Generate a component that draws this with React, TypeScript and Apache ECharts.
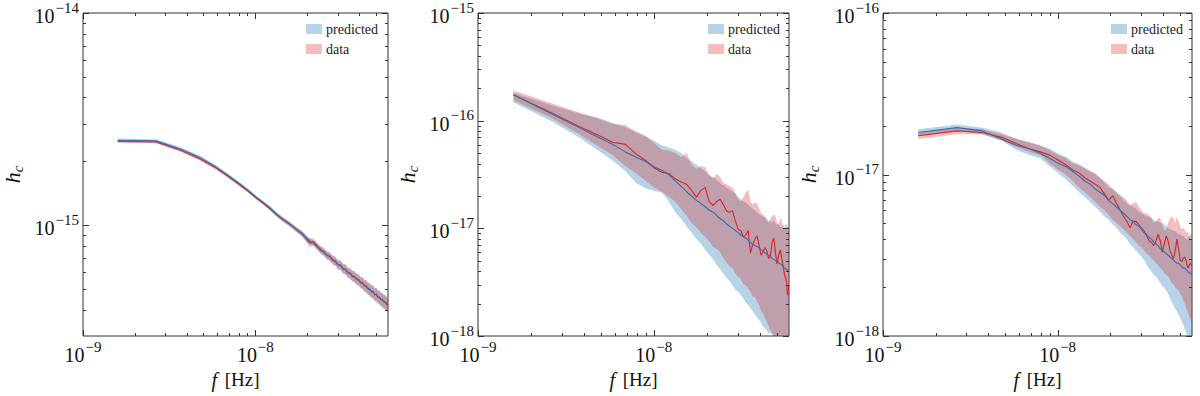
import React, { useEffect, useRef } from 'react';
import * as echarts from 'echarts';

// frequencies in nHz
const freqNHz = [
  1.59, 2.65, 3.71, 4.77, 5.83, 6.89, 7.95, 9.01, 10.07, 11.13,
  12.19, 13.25, 14.31, 15.37, 16.43, 17.49, 18.55, 19.61, 20.67, 21.73,
  22.79, 23.85, 24.91, 25.97, 27.03, 28.09, 29.15, 30.21, 31.27, 32.33,
  33.39, 34.45, 35.51, 36.57, 37.63, 38.69, 39.75, 40.81, 41.87, 42.93,
  43.99, 45.05, 46.11, 47.17, 48.23, 49.29, 50.35, 51.41, 52.47, 53.53,
  54.59, 55.65, 56.71, 57.77, 58.83,
];

// all h_c values stored as log10(h_c)
// ---- panel 1
const p1PredMed = [
  -14.600, -14.603, -14.642, -14.681, -14.722, -14.764, -14.800, -14.834, -14.867, -14.894,
  -14.920, -14.948, -14.970, -14.987, -15.005, -15.023, -15.037, -15.058, -15.075, -15.086,
  -15.101, -15.113, -15.128, -15.139, -15.150, -15.162, -15.173, -15.185, -15.192, -15.204,
  -15.211, -15.222, -15.230, -15.238, -15.245, -15.253, -15.260, -15.268, -15.276, -15.283,
  -15.291, -15.298, -15.306, -15.310, -15.317, -15.325, -15.329, -15.336, -15.344, -15.348,
  -15.355, -15.359, -15.365, -15.370, -15.374,
];
const p1PredHi = [
  -14.592, -14.595, -14.634, -14.673, -14.714, -14.756, -14.792, -14.826, -14.859, -14.886,
  -14.911, -14.938, -14.960, -14.977, -14.995, -15.013, -15.026, -15.046, -15.061, -15.072,
  -15.087, -15.098, -15.113, -15.122, -15.134, -15.144, -15.155, -15.166, -15.172, -15.184,
  -15.190, -15.200, -15.208, -15.214, -15.222, -15.229, -15.235, -15.243, -15.250, -15.257,
  -15.263, -15.270, -15.277, -15.281, -15.287, -15.295, -15.298, -15.305, -15.312, -15.316,
  -15.322, -15.326, -15.332, -15.337, -15.341,
];
const p1PredLo = [
  -14.607, -14.610, -14.649, -14.689, -14.730, -14.772, -14.808, -14.842, -14.875, -14.903,
  -14.930, -14.958, -14.981, -14.998, -15.017, -15.035, -15.050, -15.071, -15.089, -15.101,
  -15.116, -15.129, -15.144, -15.157, -15.168, -15.181, -15.192, -15.205, -15.213, -15.225,
  -15.233, -15.245, -15.254, -15.262, -15.270, -15.279, -15.286, -15.295, -15.303, -15.311,
  -15.320, -15.327, -15.336, -15.341, -15.348, -15.357, -15.361, -15.369, -15.378, -15.382,
  -15.390, -15.394, -15.401, -15.406, -15.411,
];
const p1DataMed = [
  -14.606, -14.608, -14.648, -14.688, -14.728, -14.769, -14.805, -14.838, -14.871, -14.897,
  -14.923, -14.950, -14.972, -14.989, -15.006, -15.024, -15.040, -15.062, -15.085, -15.078,
  -15.098, -15.118, -15.124, -15.143, -15.147, -15.167, -15.170, -15.189, -15.188, -15.209,
  -15.207, -15.226, -15.226, -15.243, -15.241, -15.258, -15.256, -15.273, -15.271, -15.288,
  -15.286, -15.303, -15.301, -15.315, -15.312, -15.330, -15.324, -15.341, -15.339, -15.353,
  -15.350, -15.364, -15.360, -15.375, -15.378,
];
const p1DataHi = [
  -14.600, -14.602, -14.641, -14.681, -14.721, -14.762, -14.798, -14.831, -14.864, -14.889,
  -14.914, -14.941, -14.962, -14.978, -14.995, -15.012, -15.027, -15.048, -15.066, -15.062,
  -15.082, -15.100, -15.104, -15.124, -15.126, -15.146, -15.148, -15.167, -15.164, -15.186,
  -15.182, -15.203, -15.199, -15.219, -15.214, -15.233, -15.228, -15.248, -15.242, -15.262,
  -15.257, -15.277, -15.271, -15.288, -15.281, -15.302, -15.293, -15.312, -15.307, -15.324,
  -15.318, -15.334, -15.327, -15.344, -15.345,
];
const p1DataLo = [
  -14.612, -14.614, -14.655, -14.695, -14.735, -14.776, -14.812, -14.845, -14.878, -14.905,
  -14.932, -14.959, -14.982, -15.000, -15.017, -15.036, -15.053, -15.076, -15.104, -15.094,
  -15.114, -15.136, -15.144, -15.162, -15.168, -15.188, -15.192, -15.211, -15.212, -15.232,
  -15.232, -15.249, -15.253, -15.267, -15.268, -15.283, -15.284, -15.298, -15.300, -15.314,
  -15.315, -15.329, -15.331, -15.342, -15.343, -15.358, -15.355, -15.370, -15.371, -15.382,
  -15.382, -15.394, -15.393, -15.406, -15.411,
];

// ---- panel 2
const p2PredMed = [
  -15.76, -15.94, -16.06, -16.15, -16.22, -16.29, -16.34, -16.38, -16.43, -16.46,
  -16.50, -16.56, -16.61, -16.66, -16.70, -16.74, -16.77, -16.80, -16.83, -16.85,
  -16.88, -16.91, -16.93, -16.96, -16.98, -17.00, -17.02, -17.04, -17.06, -17.08,
  -17.09, -17.11, -17.13, -17.15, -17.16, -17.17, -17.18, -17.20, -17.21, -17.23,
  -17.24, -17.25, -17.26, -17.28, -17.29, -17.30, -17.31, -17.32, -17.33, -17.34,
  -17.36, -17.37, -17.38, -17.39, -17.40,
];
const p2PredHi = [
  -15.74, -15.86, -15.93, -15.97, -16.02, -16.06, -16.11, -16.15, -16.19, -16.23,
  -16.25, -16.27, -16.30, -16.35, -16.38, -16.41, -16.44, -16.47, -16.51, -16.52,
  -16.55, -16.58, -16.60, -16.62, -16.64, -16.66, -16.68, -16.71, -16.73, -16.75,
  -16.76, -16.78, -16.80, -16.82, -16.83, -16.85, -16.87, -16.88, -16.89, -16.90,
  -16.91, -16.93, -16.94, -16.95, -16.92, -16.96, -16.97, -16.95, -16.99, -16.99,
  -16.96, -17.00, -17.01, -16.97, -17.02,
];
const p2PredLo = [
  -15.83, -16.01, -16.15, -16.27, -16.37, -16.47, -16.58, -16.63, -16.65, -16.67,
  -16.75, -16.85, -16.91, -16.98, -17.04, -17.10, -17.14, -17.20, -17.24, -17.29,
  -17.34, -17.38, -17.42, -17.46, -17.49, -17.53, -17.57, -17.59, -17.62, -17.65,
  -17.69, -17.71, -17.74, -17.77, -17.80, -17.83, -17.85, -17.88, -17.91, -17.93,
  -17.95, -17.98, -17.97, -17.98, -18.00, -18.09, -18.12, -18.15, -18.18, -18.21,
  -18.24, -18.27, -18.30, -18.33, -18.36,
];
const p2DataMed = [
  -15.76, -15.93, -16.05, -16.13, -16.20, -16.22, -16.31, -16.37, -16.44, -16.48,
  -16.49, -16.54, -16.57, -16.59, -16.65, -16.71, -16.65, -16.62, -16.75, -16.79,
  -16.75, -16.73, -16.78, -16.84, -16.85, -16.84, -16.93, -17.01, -17.02, -17.08,
  -17.06, -17.02, -17.23, -17.15, -17.10, -17.07, -17.16, -17.25, -17.22, -17.18,
  -17.21, -17.28, -17.26, -17.13, -17.09, -17.23, -17.33, -17.25, -17.20, -17.28,
  -17.36, -17.44, -17.48, -17.62, -17.53,
];
const p2DataHi = [
  -15.72, -15.84, -15.92, -15.98, -16.03, -16.04, -16.10, -16.14, -16.21, -16.27,
  -16.28, -16.30, -16.34, -16.30, -16.41, -16.45, -16.42, -16.43, -16.50, -16.54,
  -16.49, -16.52, -16.58, -16.59, -16.61, -16.62, -16.67, -16.73, -16.75, -16.71,
  -16.67, -16.64, -16.75, -16.78, -16.76, -16.77, -16.81, -16.86, -16.87, -16.89,
  -16.93, -16.95, -16.91, -16.89, -16.87, -16.89, -16.95, -16.97, -16.90, -16.93,
  -17.00, -16.99, -16.95, -17.00, -17.04,
];
const p2DataLo = [
  -15.81, -15.98, -16.12, -16.23, -16.32, -16.42, -16.49, -16.56, -16.62, -16.66,
  -16.71, -16.75, -16.82, -16.88, -16.95, -16.99, -17.04, -17.08, -17.12, -17.17,
  -17.19, -17.22, -17.28, -17.32, -17.35, -17.37, -17.42, -17.45, -17.47, -17.52,
  -17.53, -17.56, -17.59, -17.63, -17.64, -17.68, -17.71, -17.77, -17.79, -17.83,
  -17.87, -17.91, -17.95, -17.98, -18.02, -18.05, -18.08, -18.12, -18.15, -18.18,
  -18.22, -18.25, -18.28, -18.32, -18.35,
];

// ---- panel 3
const p3PredMed = [
  -16.74, -16.71, -16.73, -16.78, -16.82, -16.84, -16.87, -16.90, -16.93, -16.95,
  -16.98, -17.01, -17.04, -17.06, -17.09, -17.11, -17.13, -17.16, -17.18, -17.20,
  -17.22, -17.24, -17.26, -17.28, -17.29, -17.31, -17.32, -17.34, -17.36, -17.37,
  -17.39, -17.40, -17.42, -17.43, -17.44, -17.46, -17.47, -17.48, -17.49, -17.50,
  -17.51, -17.52, -17.53, -17.54, -17.55, -17.55, -17.56, -17.57, -17.58, -17.58,
  -17.59, -17.60, -17.61, -17.61, -17.62,
];
const p3PredHi = [
  -16.72, -16.69, -16.71, -16.74, -16.78, -16.80, -16.82, -16.84, -16.87, -16.89,
  -16.92, -16.94, -16.96, -16.98, -17.00, -17.02, -17.05, -17.08, -17.09, -17.11,
  -17.13, -17.16, -17.18, -17.19, -17.20, -17.21, -17.23, -17.24, -17.25, -17.26,
  -17.26, -17.27, -17.28, -17.29, -17.29, -17.30, -17.30, -17.31, -17.32, -17.33,
  -17.34, -17.34, -17.35, -17.35, -17.36, -17.37, -17.37, -17.38, -17.38, -17.39,
  -17.40, -17.40, -17.38, -17.37, -17.38,
];
const p3PredLo = [
  -16.76, -16.73, -16.75, -16.79, -16.85, -16.88, -16.90, -16.95, -16.99, -17.03,
  -17.07, -17.11, -17.14, -17.17, -17.20, -17.23, -17.26, -17.28, -17.31, -17.33,
  -17.36, -17.38, -17.40, -17.43, -17.45, -17.47, -17.49, -17.51, -17.53, -17.56,
  -17.58, -17.60, -17.62, -17.63, -17.65, -17.67, -17.69, -17.70, -17.72, -17.74,
  -17.77, -17.79, -17.81, -17.83, -17.85, -17.87, -17.89, -17.91, -17.93, -17.96,
  -17.98, -18.01, -18.03, -18.06, -18.08,
];
const p3DataMed = [
  -16.76, -16.73, -16.74, -16.77, -16.81, -16.84, -16.86, -16.88, -16.91, -16.94,
  -16.97, -16.99, -17.02, -17.04, -17.06, -17.08, -17.12, -17.16, -17.13, -17.18,
  -17.22, -17.26, -17.29, -17.33, -17.29, -17.29, -17.31, -17.33, -17.35, -17.38,
  -17.41, -17.42, -17.44, -17.41, -17.37, -17.41, -17.48, -17.43, -17.38, -17.41,
  -17.47, -17.50, -17.52, -17.47, -17.40, -17.46, -17.53, -17.54, -17.52, -17.51,
  -17.54, -17.58, -17.56, -17.55, -17.57,
];
const p3DataHi = [
  -16.74, -16.71, -16.72, -16.75, -16.78, -16.80, -16.82, -16.85, -16.88, -16.90,
  -16.93, -16.94, -16.96, -16.98, -16.99, -17.02, -17.04, -17.06, -17.09, -17.11,
  -17.13, -17.14, -17.16, -17.19, -17.18, -17.17, -17.20, -17.22, -17.24, -17.24,
  -17.25, -17.27, -17.30, -17.29, -17.27, -17.27, -17.31, -17.35, -17.34, -17.30,
  -17.27, -17.26, -17.27, -17.30, -17.26, -17.29, -17.32, -17.34, -17.33, -17.34,
  -17.36, -17.35, -17.38, -17.40, -17.41,
];
const p3DataLo = [
  -16.78, -16.75, -16.75, -16.79, -16.83, -16.86, -16.88, -16.93, -16.97, -17.00,
  -17.04, -17.08, -17.11, -17.14, -17.17, -17.20, -17.22, -17.25, -17.28, -17.30,
  -17.32, -17.34, -17.36, -17.38, -17.40, -17.42, -17.44, -17.45, -17.47, -17.49,
  -17.50, -17.52, -17.53, -17.55, -17.56, -17.58, -17.59, -17.61, -17.62, -17.63,
  -17.65, -17.67, -17.68, -17.70, -17.71, -17.72, -17.74, -17.75, -17.78, -17.80,
  -17.83, -17.85, -17.88, -17.90, -17.92,
];

// axis ranges and ticks
const xRange = [1e-9, 5.883e-8];
const xMajorTicks = [1e-9, 1e-8];
const xMinorTicks = [2e-9, 3e-9, 4e-9, 5e-9, 6e-9, 7e-9, 8e-9, 9e-9, 2e-8, 3e-8, 4e-8, 5e-8];
const y1Range = [3e-16, 1e-14];
const y1MajorTicks = [1e-15, 1e-14];
const y1MinorTicks = [4e-16, 5e-16, 6e-16, 7e-16, 8e-16, 9e-16, 2e-15, 3e-15, 4e-15, 5e-15, 6e-15, 7e-15, 8e-15, 9e-15];
const y2Range = [1e-18, 1e-15];
const y2MajorTicks = [1e-18, 1e-17, 1e-16, 1e-15];
const y2MinorTicks = [
  2e-18, 3e-18, 4e-18, 5e-18, 6e-18, 7e-18, 8e-18, 9e-18,
  2e-17, 3e-17, 4e-17, 5e-17, 6e-17, 7e-17, 8e-17, 9e-17,
  2e-16, 3e-16, 4e-16, 5e-16, 6e-16, 7e-16, 8e-16, 9e-16,
];
const y3Range = [1e-18, 1e-16];
const y3MajorTicks = [1e-18, 1e-17, 1e-16];
const y3MinorTicks = [
  2e-18, 3e-18, 4e-18, 5e-18, 6e-18, 7e-18, 8e-18, 9e-18,
  2e-17, 3e-17, 4e-17, 5e-17, 6e-17, 7e-17, 8e-17, 9e-17,
];

const legendNames = ['predicted', 'data'];
const xTitle = '{i|f} [Hz]';
const yTitle = '{i|h}{c|c}';

const SERIF = 'Liberation Serif';
const PRED_FILL = 'rgba(31,119,180,0.32)';
const DATA_FILL = 'rgba(214,39,40,0.30)';
const PRED_LINE = '#2f6fb0';
const DATA_LINE = '#d62728';
const FRAME = '#333';

const panels = [
  {
    left: 78, width: 310, yRange: y1Range, yMajor: y1MajorTicks, yMinor: y1MinorTicks,
    legendLeft: 306, nameGap: 58,
    pred: [p1PredLo, p1PredMed, p1PredHi], data: [p1DataLo, p1DataMed, p1DataHi],
  },
  {
    left: 478, width: 311, yRange: y2Range, yMajor: y2MajorTicks, yMinor: y2MinorTicks,
    legendLeft: 708, nameGap: 58,
    pred: [p2PredLo, p2PredMed, p2PredHi], data: [p2DataLo, p2DataMed, p2DataHi],
  },
  {
    left: 883, width: 309, yRange: y3Range, yMajor: y3MajorTicks, yMinor: y3MinorTicks,
    legendLeft: 1111, nameGap: 62,
    pred: [p3PredLo, p3PredMed, p3PredHi], data: [p3DataLo, p3DataMed, p3DataHi],
  },
];

const TOP = 11;
const HEIGHT = 325;

const pow10Label = (v: number) => {
  const e = Math.log10(v);
  const r = Math.round(e);
  if (Math.abs(e - r) > 1e-6) return '';
  return `{b|10}{s|\u2212${-r}}`;
};

const labelRich = {
  b: { fontFamily: SERIF, fontSize: 20, lineHeight: 26, color: '#111', verticalAlign: 'bottom' },
  s: { fontFamily: SERIF, fontSize: 15, lineHeight: 12, color: '#111', verticalAlign: 'top', padding: [0, 0, 0, 1] },
};

const hz = (k: number) => freqNHz[k] * 1e-9;

function bandSeries(name: string, idx: number, lo: number[], hi: number[], fill: string, z: number) {
  return {
    type: 'custom',
    name,
    xAxisIndex: idx,
    yAxisIndex: idx,
    clip: true,
    silent: true,
    z,
    itemStyle: { color: fill },
    encode: { x: 0, y: 1 },
    data: [[hz(0), Math.pow(10, hi[0])]],
    renderItem: (params: any, api: any) => {
      const pts: number[][] = [];
      for (let k = 0; k < freqNHz.length; k++) pts.push(api.coord([hz(k), Math.pow(10, hi[k])]));
      for (let k = freqNHz.length - 1; k >= 0; k--) pts.push(api.coord([hz(k), Math.pow(10, lo[k])]));
      return { type: 'polygon', shape: { points: pts }, style: { fill, stroke: 'none' } };
    },
  };
}

function lineSeries(name: string, idx: number, med: number[], color: string, z: number) {
  return {
    type: 'line',
    name,
    xAxisIndex: idx,
    yAxisIndex: idx,
    showSymbol: false,
    symbol: 'none',
    silent: true,
    z,
    lineStyle: { color, width: 1.1 },
    itemStyle: { color },
    data: med.map((v, k) => [hz(k), Math.pow(10, v)]),
  };
}

function tickSeries(idx: number, yMajor: number[], yMinor: number[], yRange: number[]) {
  return {
    type: 'custom',
    xAxisIndex: idx,
    yAxisIndex: idx,
    silent: true,
    z: 10,
    encode: { x: 0, y: 1 },
    data: [[xRange[0], yRange[0]]],
    renderItem: (params: any, api: any) => {
      const cs = params.coordSys;
      const L = cs.x, R = cs.x + cs.width, T = cs.y, B = cs.y + cs.height;
      const children: any[] = [];
      const add = (x1: number, y1: number, x2: number, y2: number) =>
        children.push({ type: 'line', shape: { x1, y1, x2, y2 }, style: { stroke: FRAME, lineWidth: 1 } });
      const yRef = yRange[0];
      const xTick = (v: number, len: number) => {
        const px = Math.round(api.coord([v, yRef])[0]) + 0.5;
        add(px, B, px, B - len);
        add(px, T, px, T + len);
      };
      const yTick = (v: number, len: number) => {
        const py = Math.round(api.coord([xRange[0], v])[1]) + 0.5;
        add(L, py, L + len, py);
        add(R, py, R - len, py);
      };
      xMajorTicks.forEach((v) => xTick(v, 6));
      xMinorTicks.forEach((v) => xTick(v, 3));
      yMajor.forEach((v) => yTick(v, 6));
      yMinor.forEach((v) => yTick(v, 3));
      return { type: 'group', children };
    },
  };
}

function buildOption() {
  const grid = panels.map((p) => ({
    left: p.left, top: TOP, width: p.width, height: HEIGHT,
    show: true, borderColor: FRAME, borderWidth: 1, backgroundColor: 'transparent',
  }));
  const xAxis = panels.map((p, i) => ({
    type: 'log', logBase: 10, gridIndex: i, min: xRange[0], max: xRange[1],
    axisLine: { show: false }, axisTick: { show: false }, splitLine: { show: false },
    axisLabel: { interval: 0, margin: 3, formatter: pow10Label, rich: labelRich, color: '#111', fontFamily: SERIF },
    name: xTitle, nameLocation: 'middle', nameGap: 30,
    nameTextStyle: {
      fontFamily: SERIF, fontSize: 19, color: '#111',
      rich: { i: { fontFamily: SERIF, fontStyle: 'italic', fontSize: 20, color: '#111', padding: [0, 3, 0, 0] } },
    },
  }));
  const yAxis = panels.map((p, i) => ({
    type: 'log', logBase: 10, gridIndex: i, min: p.yRange[0], max: p.yRange[1],
    axisLine: { show: false }, axisTick: { show: false }, splitLine: { show: false },
    axisLabel: { interval: 0, margin: 4, formatter: pow10Label, rich: labelRich, color: '#111', fontFamily: SERIF },
    name: yTitle, nameLocation: 'middle', nameGap: p.nameGap,
    nameTextStyle: {
      fontFamily: SERIF, fontSize: 20, color: '#111',
      rich: {
        i: { fontFamily: SERIF, fontStyle: 'italic', fontSize: 22, lineHeight: 24, color: '#111', verticalAlign: 'top' },
        c: { fontFamily: SERIF, fontStyle: 'italic', fontSize: 15, lineHeight: 12, color: '#111', verticalAlign: 'bottom' },
      },
    },
  }));
  const series: any[] = [];
  panels.forEach((p, i) => {
    series.push(bandSeries(legendNames[0], i, p.pred[0], p.pred[2], PRED_FILL, 2));
    series.push(bandSeries(legendNames[1], i, p.data[0], p.data[2], DATA_FILL, 2));
    series.push(lineSeries('data median', i, p.data[1], DATA_LINE, 3));
    series.push(lineSeries('predicted median', i, p.pred[1], PRED_LINE, 4));
    series.push(tickSeries(i, p.yMajor, p.yMinor, p.yRange));
  });
  const legend = panels.map((p) => ({
    left: p.legendLeft, top: 22, orient: 'vertical', padding: 0,
    itemWidth: 16, itemHeight: 10, itemGap: 6, icon: 'rect', selectedMode: false,
    data: legendNames,
    textStyle: { fontFamily: SERIF, fontSize: 14, color: '#222', padding: [0, 0, 0, -1] },
  }));
  return { animation: false, backgroundColor: '#fff', textStyle: { fontFamily: SERIF }, grid, xAxis, yAxis, series, legend };
}

export default function App() {
  const ref = useRef<HTMLDivElement>(null);
  useEffect(() => {
    if (!ref.current) return;
    const chart = echarts.init(ref.current, undefined, { renderer: 'svg' });
    chart.setOption(buildOption() as any);
    return () => chart.dispose();
  }, []);
  return (
    <div
      ref={ref}
      style={{ position: 'absolute', left: 0, top: 0, width: 1200, height: 396, background: '#fff' }}
    />
  );
}
